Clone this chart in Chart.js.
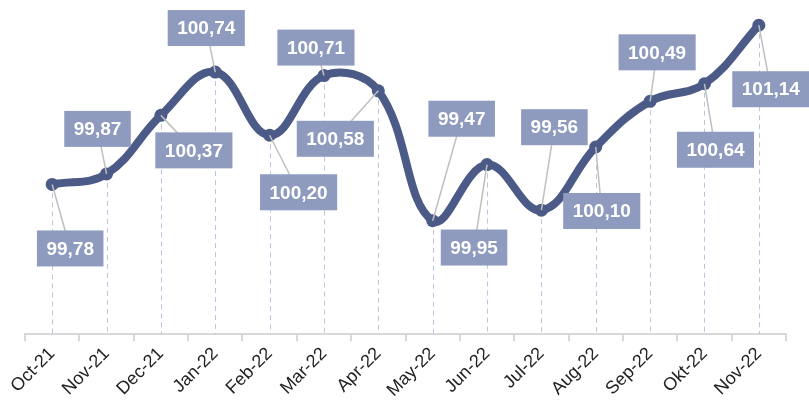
<!DOCTYPE html>
<html lang="en">
<head>
    <meta charset="UTF-8">
    <title>Index</title>
    <script src="https://cdn.jsdelivr.net/npm/chart.js"></script>
    <style>
        html, body { margin: 0; padding: 0; background: #fff; }
        .chart-box { width: 809px; height: 412px; }
    </style>
</head>
<body>
    <div class="chart-box">
        <canvas id="chartContainer"></canvas>
    </div>

    <script>
        // Data
        const months = ['Oct-21', 'Nov-21', 'Dec-21', 'Jan-22', 'Feb-22', 'Mar-22', 'Apr-22',
                        'May-22', 'Jun-22', 'Jul-22', 'Aug-22', 'Sep-22', 'Okt-22', 'Nov-22'];
        const values = [99.78, 99.87, 100.37, 100.74, 100.20, 100.71, 100.58,
                        99.47, 99.95, 99.56, 100.10, 100.49, 100.64, 101.14];

        // where each label box sits relative to its point (px)
        const labelOffsets = [
            [18, 64], [-9, -45], [33, 35], [-9, -44], [29, 57], [-8, -28], [-43, 48],
            [29, -102], [-13, 83], [13, -83], [6, 64], [7, -49], [11, 66], [12, 64]
        ];

        const lineColor = '#4b5a86';
        const boxColor = '#8e9bbf';

        function fmt(v) {
            return v.toFixed(2).replace('.', ',');
        }

        // drop lines + label boxes with leader lines
        const labelPlugin = {
            id: 'labelPlugin',
            beforeDatasetsDraw(chart) {
                const ctx = chart.ctx;
                const bottom = chart.chartArea.bottom;
                const pts = chart.getDatasetMeta(0).data;
                ctx.save();
                ctx.strokeStyle = '#bcc3e3';
                ctx.lineWidth = 1;
                ctx.setLineDash([5, 4]);
                pts.forEach(p => {
                    ctx.beginPath();
                    ctx.moveTo(Math.round(p.x) + 0.5, p.y);
                    ctx.lineTo(Math.round(p.x) + 0.5, bottom);
                    ctx.stroke();
                });
                ctx.restore();
            },
            afterDatasetsDraw(chart) {
                const ctx = chart.ctx;
                const pts = chart.getDatasetMeta(0).data;
                ctx.save();
                ctx.font = 'bold 19px "Liberation Sans", Arial, sans-serif';
                ctx.textAlign = 'center';
                ctx.textBaseline = 'middle';
                pts.forEach((p, i) => {
                    const cx = p.x + labelOffsets[i][0];
                    const cy = p.y + labelOffsets[i][1];
                    const txt = fmt(values[i]);
                    const w = ctx.measureText(txt).width + 19;
                    const h = 36;
                    ctx.strokeStyle = '#bfbfbf';
                    ctx.lineWidth = 1.5;
                    ctx.beginPath();
                    ctx.moveTo(p.x, p.y);
                    ctx.lineTo(cx, cy);
                    ctx.stroke();
                    ctx.fillStyle = boxColor;
                    ctx.fillRect(cx - w / 2, cy - h / 2, w, h);
                    ctx.fillStyle = '#ffffff';
                    ctx.fillText(txt, cx, cy + 1);
                });
                ctx.restore();
            }
        };

        const ctx = document.getElementById('chartContainer').getContext('2d');
        const myChart = new Chart(ctx, {
            type: 'line',
            data: {
                labels: months,
                datasets: [{
                    data: values,
                    borderColor: lineColor,
                    backgroundColor: lineColor,
                    borderWidth: 8,
                    tension: 0.4,
                    pointRadius: 6.5,
                    pointBorderWidth: 0,
                    clip: false
                }]
            },
            options: {
                responsive: true,
                maintainAspectRatio: false,
                animation: false,
                layout: { padding: { top: 2, left: 25, right: 23, bottom: 9 } },
                plugins: {
                    legend: { display: false },
                    tooltip: { enabled: false }
                },
                scales: {
                    x: {
                        offset: true,
                        grid: {
                            offset: true,
                            drawOnChartArea: false,
                            color: '#d9d9d9',
                            lineWidth: 2,
                            tickLength: 7
                        },
                        border: { color: '#d9d9d9', width: 2 },
                        ticks: {
                            color: '#222',
                            font: { family: '"Liberation Sans", Arial, sans-serif', size: 18 },
                            minRotation: 45,
                            maxRotation: 45,
                            padding: 2
                        }
                    },
                    y: {
                        display: false,
                        min: 98.5,
                        max: 101.3
                    }
                }
            },
            plugins: [labelPlugin]
        });
    </script>
</body>
</html>
